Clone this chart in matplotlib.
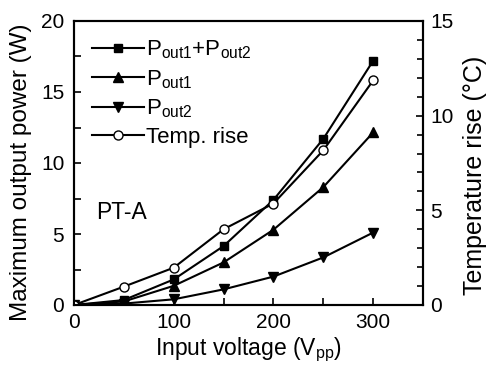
import matplotlib.pyplot as plt
from matplotlib.ticker import MultipleLocator

plt.rcParams['font.family'] = ['Liberation Sans', 'DejaVu Sans']
plt.rcParams['mathtext.fontset'] = 'custom'
plt.rcParams['mathtext.rm'] = 'Liberation Sans'
plt.rcParams['mathtext.it'] = 'Liberation Sans'
plt.rcParams['font.size'] = 15

voltage = [0, 50, 100, 150, 200, 250, 300]
p_total = [0, 0.35, 1.8, 4.15, 7.4, 11.7, 17.2]
p_out1 = [0, 0.25, 1.35, 3.0, 5.3, 8.3, 12.15]
p_out2 = [0, 0.1, 0.4, 1.1, 2.0, 3.35, 5.1]
temp_rise = [0, 0.97, 1.97, 4.0, 5.36, 8.17, 11.86]

fig = plt.figure(figsize=(4.88, 3.68), dpi=100)
ax = fig.add_axes([74 / 488, 1 - 305 / 368, 349 / 488, 284 / 368])
ax2 = ax.twinx()

lw = 1.5
l1, = ax.plot(voltage, p_total, 'k-', marker='s', ms=6, lw=lw, label='P$_{\\rm out1}$+P$_{\\rm out2}$')
l2, = ax.plot(voltage, p_out1, 'k-', marker='^', ms=7, lw=lw, label='P$_{\\rm out1}$')
l3, = ax.plot(voltage, p_out2, 'k-', marker='v', ms=7, lw=lw, label='P$_{\\rm out2}$')
l4, = ax2.plot(voltage, temp_rise, 'k-', marker='o', ms=6.5, mfc='white', lw=lw, label='Temp. rise')

ax.set_xlim(0, 350)
ax.set_ylim(0, 20)
ax2.set_ylim(0, 15)
ax.xaxis.set_major_locator(MultipleLocator(100))
ax.xaxis.set_minor_locator(MultipleLocator(50))
ax.yaxis.set_major_locator(MultipleLocator(5))
ax.yaxis.set_minor_locator(MultipleLocator(2.5))
ax2.yaxis.set_major_locator(MultipleLocator(5))
ax2.yaxis.set_minor_locator(MultipleLocator(1))

ax.tick_params(which='both', direction='in', width=1.2, length=5, labelsize=15)
ax.tick_params(axis='x', pad=6)
ax.tick_params(axis='y', pad=7)
ax2.tick_params(which='major', direction='in', width=1.2, length=5, labelsize=15, pad=5)
ax2.tick_params(which='minor', direction='in', width=1.2, length=4)
for a in (ax, ax2):
    for s in a.spines.values():
        s.set_linewidth(1.5)

ax.set_xlabel('Input voltage (V$_{\\rm pp}$)', fontsize=16.5, labelpad=2)
ax.set_ylabel('Maximum output power (W)', fontsize=17.5)
ax2.set_ylabel('Temperature rise (°C)', fontsize=18)
ax.yaxis.set_label_coords(-0.12, 0.468)
ax2.yaxis.set_label_coords(1.115, 0.458)

ax.text(22, 6.5, 'PT-A', fontsize=16.5, va='center')

ax.legend(handles=[l1, l2, l3, l4], loc='upper left', frameon=False,
          handlelength=2.35, handletextpad=0.1, labelspacing=0.3,
          borderaxespad=0.2, borderpad=0.6, fontsize=16)

fig.savefig('out.png', dpi=100)
